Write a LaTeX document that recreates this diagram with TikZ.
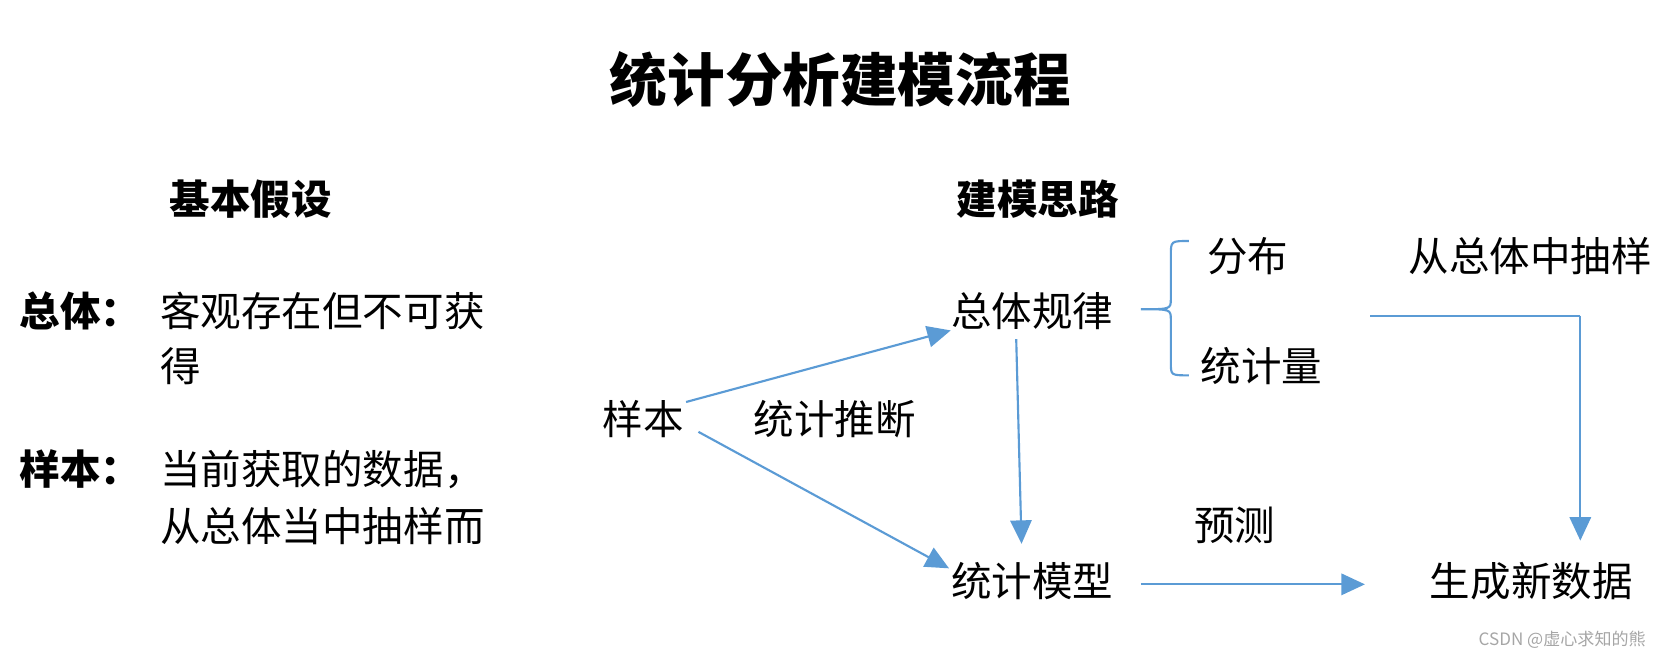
\documentclass[tikz,border=0pt]{standalone}
\usepackage{fontspec}
\setmainfont{Noto Sans CJK SC}
\usetikzlibrary{arrows.meta,decorations.pathreplacing}
\definecolor{ln}{HTML}{5B9BD5}
\tikzset{
 t/.style={inner sep=0pt,font=\fontsize{19}{22}\selectfont},
 tb/.style={inner sep=0pt,font=\fontsize{19}{22}\selectfont\bfseries},
 ar/.style={draw=ln,line width=1pt,-{Triangle[length=11pt,width=10pt]}},
}
\begin{document}
\begin{tikzpicture}[x=0.5pt,y=-0.5pt]
\useasboundingbox (0,0) rectangle (1568,619);
\node[inner sep=0pt,font=\fontsize{27}{30}\selectfont\bfseries] (title) at (788,75) {统计分析建模流程};
\node[tb] (h1) at (235,187) {基本假设};
\node[tb] (h2) at (973,187) {建模思路};
\node[tb,anchor=west] (zt) at (18,292) {总体：};
\node[t,anchor=west] (zt1) at (150,292) {客观存在但不可获};
\node[t,anchor=west] (zt2) at (150,343) {得};
\node[tb,anchor=west] (yb) at (18,440) {样本：};
\node[t,anchor=west] (yb1) at (150,440) {当前获取的数据，};
\node[t,anchor=west] (yb2) at (150,493) {从总体当中抽样而};
\node[t] (sample) at (603,393) {样本};
\node[t] (infer) at (783,393) {统计推断};
\node[t] (law) at (968,292) {总体规律};
\node[t] (model) at (968,545) {统计模型};
\node[t] (dist) at (1170,240) {分布};
\node[t] (stat) at (1183,343) {统计量};
\node[t] (draw) at (1435,240) {从总体中抽样};
\node[t] (pred) at (1158,493) {预测};
\node[t] (gen) at (1436,545) {生成新数据};
\node[inner sep=0pt,text=gray!70,font=\fontsize{8}{9}\selectfont] (wm) at (1465,600) {CSDN @虚心求知的熊};
\coordinate (c1) at (1285,296);
\coordinate (c2) at (1482,296);
\coordinate (c3) at (1482,507);
\draw[ar] (sample.east)++(2,-16) -- (law.west|-law.south);
\draw[ar] (655,405) -- (890,533);
\draw[ar] (953,318) -- (958,510);
\draw[ar] (1070,548) -- (1280,548);
\draw[draw=ln,line width=1pt] (c1) -- (c2);
\draw[ar] (c2) -- (c3);
\draw[draw=ln,line width=1pt] (1115,226) .. controls (1098,226) .. (1098,240) -- (1098,280) .. controls (1098,290) .. (1070,290) .. controls (1098,290) .. (1098,300) -- (1098,340) .. controls (1098,352) .. (1115,352);
\end{tikzpicture}
\end{document}
